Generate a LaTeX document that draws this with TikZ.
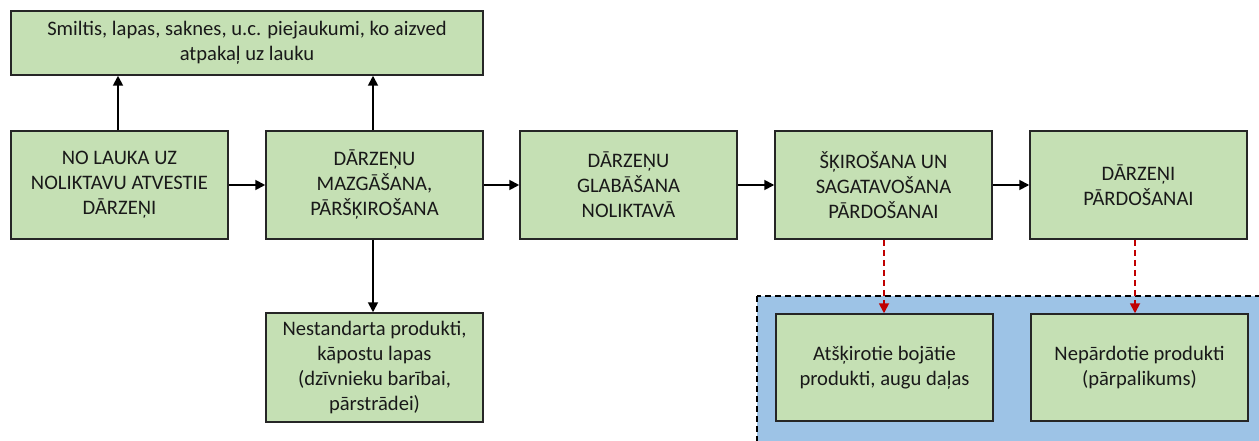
\documentclass[tikz,border=0pt]{standalone}
\usepackage{fontspec}
\setmainfont{Carlito}
\usetikzlibrary{arrows.meta}
\definecolor{boxgreen}{HTML}{C5E0B4}
\definecolor{zoneblue}{HTML}{9DC3E6}
\definecolor{lossred}{HTML}{C00000}
\begin{document}
\begin{tikzpicture}[x=1pt,y=-1pt,
  stage/.style={draw=black!85, line width=1.5pt, fill=boxgreen,
    minimum width=217pt, minimum height=108pt, align=center, inner sep=0pt,
    font=\fontsize{20.6}{25}\selectfont, text=black!90},
  flow/.style={line width=1.8pt, -{Triangle[length=10pt,width=10pt]}},
  loss/.style={line width=1.8pt, draw=lossred, dash pattern=on 6pt off 4pt,
    -{Triangle[length=10pt,width=10pt]}}]
\useasboundingbox (0,0) rectangle (1259,441);

% zone of waste products, running off the page
\begin{scope}
  \clip (0,0) rectangle (1259,441);
  \draw[fill=zoneblue, line width=1.5pt, dash pattern=on 6pt off 4pt]
    (757,296) rectangle (1275,460);
\end{scope}

% main flow
\node[stage] (b1) at (119.5,185) {NO LAUKA UZ\\NOLIKTAVU ATVESTIE\\DĀRZEŅI};
\node[stage] (b2) at (374.5,185) {DĀRZEŅU\\MAZGĀŠANA,\\PĀRŠĶIROŠANA};
\node[stage] (b3) at (628.5,185) {DĀRZEŅU\\GLABĀŠANA\\NOLIKTAVĀ};
\node[stage] (b4) at (883.5,185) {ŠĶIROŠANA UN\\SAGATAVOŠANA\\PĀRDOŠANAI};
\node[stage] (b5) at (1138.5,185) {DĀRZEŅI\\PĀRDOŠANAI};

% by-products
\node[stage, minimum width=472pt, minimum height=64pt] (top) at (247,43)
  {Smiltis, lapas, saknes, u.c. piejaukumi, ko aizved\\atpakaļ uz lauku};
\node[stage, minimum height=109pt] (b6) at (374.5,367.5)
  {Nestandarta produkti,\\kāpostu lapas\\(dzīvnieku barībai,\\pārstrādei)};
\node[stage, minimum height=107pt] (b7) at (884.5,367.5)
  {Atšķirotie bojātie\\produkti, augu daļas};
\node[stage, minimum height=107pt] (b8) at (1139.5,367.5)
  {Nepārdotie produkti\\(pārpalikums)};

% connectors
\draw[flow] (b1) -- (b2);
\draw[flow] (b2) -- (b3);
\draw[flow] (b3) -- (b4);
\draw[flow] (b4) -- (b5);
\draw[flow] (b1.north -| 118,0) -- (118,0 |- top.south);
\draw[flow] (b2.north -| 373,0) -- (373,0 |- top.south);
\draw[flow] (b2.south -| 373,0) -- (373,0 |- b6.north);
\draw[loss] (b4.south -| 884,0) -- (884,0 |- b7.north);
\draw[loss] (b5.south -| 1135,0) -- (1135,0 |- b8.north);
\end{tikzpicture}
\end{document}
